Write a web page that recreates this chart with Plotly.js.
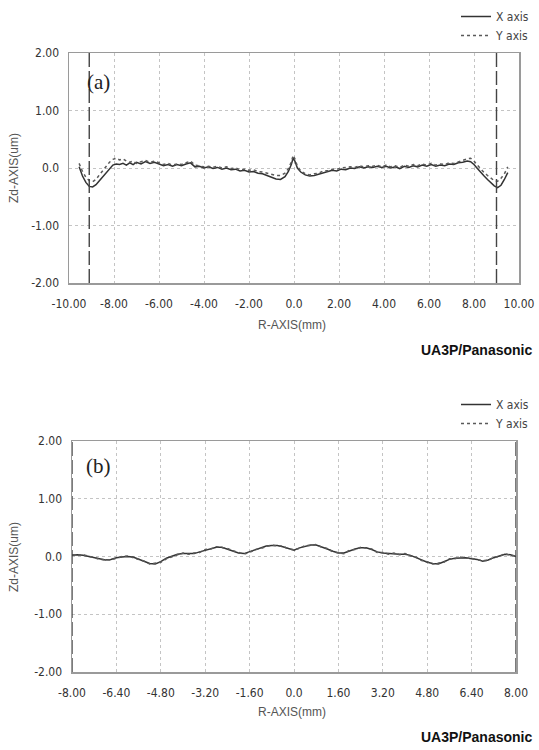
<!DOCTYPE html>
<html>
<head>
<meta charset="utf-8">
<script src="https://cdn.plot.ly/plotly-3.0.1.min.js"></script>
<style>html,body{margin:0;padding:0;background:#fff;}#chart{width:539px;height:750px;}</style>
</head>
<body>
<div id="chart"></div>
<script>
// ---- Chart (a) data ----
var rA = [-9.55,-9.4,-9.25,-9.1,-8.95,-8.8,-8.65,-8.5,-8.35,-8.2,-8.05,-7.9,-7.75,-7.6,-7.45,-7.3,-7.15,-7.0,-6.8,-6.6,-6.4,-6.2,-6.0,-5.8,-5.6,-5.4,-5.2,-5.0,-4.8,-4.6,-4.4,-4.2,-4.0,-3.8,-3.6,-3.4,-3.2,-3.0,-2.8,-2.6,-2.4,-2.2,-2.0,-1.8,-1.6,-1.4,-1.2,-1.0,-0.8,-0.6,-0.4,-0.25,-0.12,-0.04,0.04,0.15,0.3,0.5,0.7,0.9,1.1,1.3,1.5,1.7,1.9,2.1,2.3,2.5,2.7,2.9,3.1,3.3,3.5,3.7,3.9,4.1,4.3,4.5,4.7,4.9,5.1,5.3,5.5,5.7,5.9,6.1,6.3,6.5,6.7,6.9,7.1,7.3,7.5,7.7,7.85,8.0,8.15,8.3,8.45,8.6,8.75,8.9,9.05,9.2,9.35,9.5];
var xAxisA = [0.02,-0.14,-0.25,-0.32,-0.33,-0.29,-0.22,-0.15,-0.07,0.0,0.05,0.07,0.06,0.08,0.05,0.09,0.06,0.1,0.07,0.11,0.08,0.1,0.07,0.04,0.06,0.03,0.06,0.04,0.07,0.09,0.02,0.03,0.0,0.02,-0.01,0.01,-0.02,0.0,-0.03,-0.02,-0.05,-0.04,-0.07,-0.06,-0.09,-0.1,-0.13,-0.16,-0.19,-0.2,-0.15,-0.06,0.06,0.17,0.12,0.0,-0.07,-0.12,-0.14,-0.13,-0.11,-0.08,-0.07,-0.04,-0.05,-0.02,-0.03,0.0,-0.01,0.02,0.0,0.02,0.01,0.03,0.01,0.03,0.0,0.02,-0.01,0.03,0.01,0.04,0.02,0.05,0.03,0.06,0.03,0.05,0.04,0.07,0.06,0.09,0.1,0.12,0.11,0.06,-0.01,-0.08,-0.14,-0.2,-0.26,-0.31,-0.34,-0.3,-0.2,-0.08];
var yAxisA = [0.08,-0.06,-0.16,-0.22,-0.24,-0.2,-0.12,-0.04,0.04,0.1,0.15,0.17,0.14,0.16,0.12,0.1,0.12,0.08,0.11,0.13,0.1,0.12,0.09,0.06,0.08,0.05,0.07,0.06,0.09,0.12,0.05,0.04,0.02,0.03,0.01,0.03,0.0,0.02,-0.01,0.0,-0.03,-0.02,-0.04,-0.03,-0.06,-0.07,-0.09,-0.11,-0.13,-0.13,-0.09,-0.01,0.1,0.22,0.16,0.03,-0.05,-0.1,-0.12,-0.1,-0.09,-0.05,-0.05,-0.02,-0.02,0.0,0.01,0.02,0.01,0.04,0.02,0.04,0.03,0.05,0.02,0.05,0.02,0.04,0.01,0.05,0.03,0.06,0.04,0.07,0.05,0.08,0.05,0.07,0.06,0.09,0.08,0.11,0.13,0.16,0.17,0.12,0.05,-0.02,-0.08,-0.13,-0.18,-0.22,-0.23,-0.18,-0.1,0.02];
var xTicksA = [-10,-8,-6,-4,-2,0,2,4,6,8,10];
var xTickTextA = ["-10.00","-8.00","-6.00","-4.00","-2.00","0.0","2.00","4.00","6.00","8.00","10.00"];
var limitsA = [-9.1, 9.0];

// ---- Chart (b) data ----
var rB = [-8.0,-7.8,-7.6,-7.4,-7.2,-7.0,-6.8,-6.6,-6.4,-6.2,-6.0,-5.8,-5.6,-5.4,-5.2,-5.0,-4.8,-4.6,-4.4,-4.2,-4.0,-3.8,-3.6,-3.4,-3.2,-3.0,-2.8,-2.6,-2.4,-2.2,-2.0,-1.8,-1.6,-1.4,-1.2,-1.0,-0.8,-0.6,-0.4,-0.2,0.0,0.2,0.4,0.6,0.8,1.0,1.2,1.4,1.6,1.8,2.0,2.2,2.4,2.6,2.8,3.0,3.2,3.4,3.6,3.8,4.0,4.2,4.4,4.6,4.8,5.0,5.2,5.4,5.6,5.8,6.0,6.2,6.4,6.6,6.8,7.0,7.2,7.4,7.6,7.8,8.0];
var xAxisB = [0.02,0.03,0.02,0.0,-0.02,-0.04,-0.06,-0.05,-0.02,-0.01,0.0,-0.01,-0.05,-0.09,-0.12,-0.13,-0.09,-0.03,0.01,0.04,0.05,0.05,0.05,0.08,0.11,0.14,0.16,0.16,0.13,0.09,0.06,0.05,0.08,0.11,0.15,0.18,0.19,0.19,0.17,0.14,0.11,0.15,0.18,0.2,0.2,0.17,0.13,0.09,0.06,0.06,0.1,0.13,0.15,0.15,0.12,0.08,0.06,0.05,0.05,0.04,0.04,0.02,-0.02,-0.06,-0.1,-0.12,-0.13,-0.09,-0.05,-0.03,-0.02,-0.02,-0.04,-0.05,-0.08,-0.06,-0.02,0.01,0.04,0.03,0.0];
var yAxisB = [0.03,0.02,0.03,0.01,-0.02,-0.05,-0.05,-0.06,-0.03,0.0,0.01,-0.02,-0.04,-0.08,-0.13,-0.12,-0.1,-0.04,0.0,0.03,0.06,0.04,0.06,0.07,0.12,0.13,0.17,0.15,0.14,0.1,0.07,0.04,0.07,0.12,0.14,0.17,0.2,0.18,0.18,0.13,0.12,0.14,0.19,0.19,0.21,0.16,0.14,0.08,0.07,0.05,0.11,0.12,0.16,0.14,0.13,0.07,0.07,0.04,0.06,0.03,0.05,0.01,-0.01,-0.07,-0.09,-0.13,-0.12,-0.1,-0.04,-0.04,-0.01,-0.03,-0.03,-0.06,-0.07,-0.07,-0.01,0.0,0.05,0.02,0.01];
var xTicksB = [-8,-6.4,-4.8,-3.2,-1.6,0,1.6,3.2,4.8,6.4,8];
var xTickTextB = ["-8.00","-6.40","-4.80","-3.20","-1.60","0.0","1.60","3.20","4.80","6.40","8.00"];
var limitsB = [-8.0, 8.0];

// ---- shared ----
var yTicks = [2,1,0,-1,-2];
var yTickText = ["2.00","1.00","0.0","-1.00","-2.00"];
var seriesNames = ["X axis","Y axis"];

var W = 539, H = 750;
function px(x){return x/W;}
function py(y){return 1 - y/H;}

var narrow = "Liberation Sans Narrow, DejaVu Sans Condensed, Arial Narrow, sans-serif";
var tickFont = {family: narrow, size: 12, color: "#333"};

var lineX = {color: "#333333", width: 1.5, dash: "solid"};
var lineY = {color: "#5a5a5a", width: 1.5, dash: "dot"};

var traces = [
  {x: rA, y: xAxisA, name: seriesNames[0], type: "scatter", mode: "lines", line: lineX, xaxis: "x", yaxis: "y", legend: "legend"},
  {x: rA, y: yAxisA, name: seriesNames[1], type: "scatter", mode: "lines", line: lineY, xaxis: "x", yaxis: "y", legend: "legend"},
  {x: rB, y: xAxisB, name: seriesNames[0], type: "scatter", mode: "lines", line: lineX, xaxis: "x2", yaxis: "y2", legend: "legend2"},
  {x: rB, y: yAxisB, name: seriesNames[1], type: "scatter", mode: "lines", line: lineY, xaxis: "x2", yaxis: "y2", legend: "legend2"}
];

function xax(domain, anchor, range, vals, text){
  return {domain: domain, anchor: anchor, range: range, tickmode: "array", tickvals: vals, ticktext: text,
    showgrid: true, gridcolor: "#c4c4c4", griddash: "dot", gridwidth: 1, zeroline: false,
    showline: true, mirror: true, linecolor: "#9a9a9a", linewidth: 1.5,
    ticks: "outside", ticklen: 9, tickcolor: "rgba(0,0,0,0)", tickfont: tickFont, fixedrange: true};
}
function yax(domain, anchor){
  return {domain: domain, anchor: anchor, range: [-2, 2], tickmode: "array", tickvals: yTicks, ticktext: yTickText,
    showgrid: true, gridcolor: "#c4c4c4", griddash: "dot", gridwidth: 1, zeroline: false,
    showline: true, mirror: true, linecolor: "#9a9a9a", linewidth: 1.5,
    ticks: "outside", ticklen: 6, tickcolor: "rgba(0,0,0,0)", tickfont: tickFont, fixedrange: true};
}

var topDomY = [py(283), py(53)];
var botDomY = [py(672), py(441)];

function vline(xref, yref, x){
  return {type: "line", xref: xref, yref: yref + " domain", x0: x, x1: x, y0: 0, y1: 1,
    line: {color: "#444", width: 1.4, dash: "14px,4px"}};
}

var annFont = {family: "Liberation Sans, Arial, sans-serif", size: 12, color: "#555"};
function ann(text, x, y, font, extra){
  var a = {text: text, xref: "paper", yref: "paper", x: px(x), y: py(y), xanchor: "center", yanchor: "middle",
    showarrow: false, font: font};
  if (extra) for (var k in extra) a[k] = extra[k];
  return a;
}
var serif = {family: "Liberation Serif, Times New Roman, serif", size: 21, color: "#222"};
var brand = {family: "Liberation Sans, Arial, sans-serif", size: 14, color: "#111"};

var layout = {
  width: W, height: H,
  margin: {l: 0, r: 0, t: 0, b: 0},
  paper_bgcolor: "#fff", plot_bgcolor: "#fff",
  xaxis: xax([px(69), px(519)], "y", [-10, 10], xTicksA, xTickTextA),
  yaxis: yax(topDomY, "x"),
  xaxis2: xax([px(72), px(516)], "y2", [-8, 8], xTicksB, xTickTextB),
  yaxis2: yax(botDomY, "x2"),
  legend: {x: px(535), xanchor: "right", y: py(2), yanchor: "top", bgcolor: "rgba(0,0,0,0)",
    font: {family: narrow, size: 12, color: "#444"}, tracegroupgap: 0, itemwidth: 30},
  legend2: {x: px(535), xanchor: "right", y: py(390), yanchor: "top", bgcolor: "rgba(0,0,0,0)",
    font: {family: narrow, size: 12, color: "#444"}, tracegroupgap: 0, itemwidth: 30},
  shapes: [
    vline("x", "y", limitsA[0]), vline("x", "y", limitsA[1]),
    vline("x2", "y2", limitsB[0]), vline("x2", "y2", limitsB[1])
  ],
  annotations: [
    ann("(a)", 98, 82, serif),
    ann("(b)", 98, 466, serif),
    ann("R-AXIS(mm)", 292, 325, annFont),
    ann("R-AXIS(mm)", 292, 712, annFont),
    ann("Zd-AXIS(um)", 14, 168, annFont, {textangle: -90}),
    ann("Zd-AXIS(um)", 14, 557, annFont, {textangle: -90}),
    ann("<b>UA3P/Panasonic</b>", 534, 350, brand, {xanchor: "right"}),
    ann("<b>UA3P/Panasonic</b>", 534, 737, brand, {xanchor: "right"})
  ]
};

Plotly.newPlot("chart", traces, layout, {displayModeBar: false, staticPlot: true});
</script>
</body>
</html>
